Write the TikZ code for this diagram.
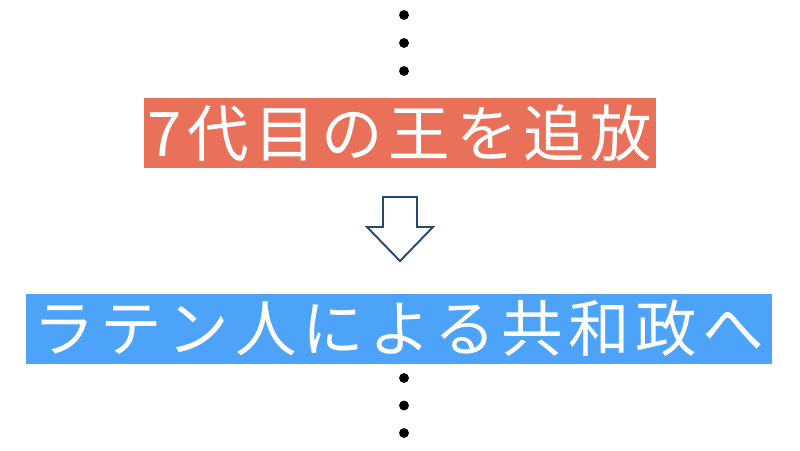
\documentclass[tikz,border=0pt]{standalone}
\usepackage{fontspec}
\newfontfamily\jpfont[LetterSpace=9]{Noto Sans CJK JP}
\usepackage{tikz}
\definecolor{kingred}{RGB}{233,112,89}
\definecolor{republicblue}{RGB}{77,163,247}
\definecolor{arrowblue}{RGB}{41,72,107}

\begin{document}
\begin{tikzpicture}[line width = 1pt]
\fill[white] (0, 0) rectangle (16, 9);
\useasboundingbox (0, 0) rectangle (16, 9);
\tikzset{banner/.style = {inner sep = 0pt, minimum height = 1.4cm, text = white, font = \jpfont\fontsize{35}{35}\selectfont}}
\foreach \i in {0, 1, 2}{\filldraw [black] (8.08, 8.7 - \i * 0.56) circle (0.08);}
\node[banner, fill = kingred, minimum width = 10.24cm] (king) at (8, 6.34) {7代目の王\hspace{4pt}を追放};
\draw[arrowblue, line width = 1.1pt, line join = miter] (7.66, 5.06) -- (8.34, 5.06) -- (8.34, 4.46) -- (8.66, 4.46) -- (8, 3.78) -- (7.34, 4.46) -- (7.66, 4.46) -- cycle;
\node[banner, fill = republicblue, minimum width = 14.92cm] (republic) at (7.98, 2.43) {ラテン人による共和政へ};
\foreach \i in {0, 1, 2}{\filldraw [black] (8.08, 1.44 - \i * 0.55) circle (0.08);}
\end{tikzpicture}
\end{document}
